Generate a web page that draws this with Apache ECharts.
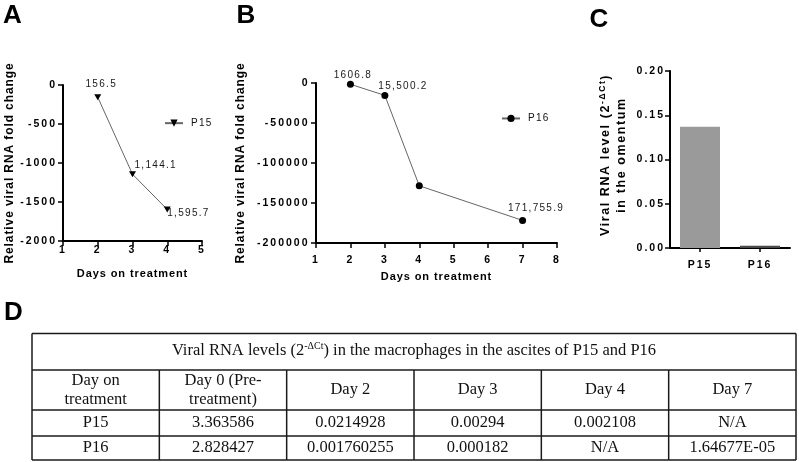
<!DOCTYPE html>
<html><head><meta charset="utf-8">
<script src="https://cdn.jsdelivr.net/npm/echarts@6/dist/echarts.min.js"></script>
<style>html,body{margin:0;padding:0;background:#fff}#c{width:799px;height:462px}</style>
</head><body><div id="c"></div>
<script>
// ---------- Panel A (P15) ----------
const daysA = [2, 3, 4];
const valuesA = [-156.5, -1144.1, -1595.7];
const labelsA = ['156.5', '1,144.1', '1,595.7'];
const xTicksA = [1, 2, 3, 4, 5];
const yTicksA = [-2000, -1500, -1000, -500, 0];
// ---------- Panel B (P16) ----------
const daysB = [2, 3, 4, 7];
const valuesB = [-1606.8, -15500.2, -128500, -171755.9];
const labelsB = ['1606.8', '15,500.2', '', '171,755.9'];
const xTicksB = [1, 2, 3, 4, 5, 6, 7, 8];
const yTicksB = [-200000, -150000, -100000, -50000, 0];
// ---------- Panel C ----------
const patientsC = ['P15', 'P16'];
const valuesC = [0.137, 0.0025];
const yTicksC = [0, 0.05, 0.10, 0.15, 0.20];
// ---------- Panel D (table) ----------
const tableTitleMain = 'Viral RNA levels (2';
const tableTitleSup = '-ΔCt';
const tableTitleEnd = ') in the macrophages in the ascites of P15 and P16';
const tableHeader = ['Day on\ntreatment', 'Day 0 (Pre-\ntreatment)', 'Day 2', 'Day 3', 'Day 4', 'Day 7'];
const tableRowP15 = ['P15', '3.363586', '0.0214928', '0.00294', '0.002108', 'N/A'];
const tableRowP16 = ['P16', '2.828427', '0.001760255', '0.000182', 'N/A', '1.64677E-05'];

// ---------- letter spacing for the chart-panel sans texts (rendering only) ----------
(function () {
  const P = CanvasRenderingContext2D.prototype;
  const groups = [['Arial', '2px'], ['Helvetica', '1.3px'], ['Verdana', '0.9px'], ['Tahoma', '1.6px']];
  function apply(ctx) {
    if (!('letterSpacing' in ctx)) return;
    const f = ctx.font || '';
    let s = '0px';
    for (const g of groups) { if (f.indexOf(g[0]) >= 0) { s = g[1]; break; } }
    if (ctx.letterSpacing !== s) ctx.letterSpacing = s;
  }
  const ft = P.fillText, st = P.strokeText, mt = P.measureText;
  P.fillText = function () { apply(this); return ft.apply(this, arguments); };
  P.strokeText = function () { apply(this); return st.apply(this, arguments); };
  P.measureText = function () { apply(this); return mt.apply(this, arguments); };
})();

// ---------- styling / layout (not data) ----------
const TICKF = "'Liberation Sans', Arial";
const LABF = "'Liberation Sans', Helvetica";
const TITF = "'Liberation Sans', Verdana";
const CTITF = "'Liberation Sans', Tahoma";
const SERIF = 'Liberation Serif';
const labelPlaceA = [
  {dx: 3.5, dy: -12.5, align: 'center'},
  {dx: 2, dy: -9, align: 'left'},
  {dx: 0, dy: 4, align: 'left'}
];
const labelPlaceB = [
  {dx: 2.5, dy: -9.5, align: 'center'},
  {dx: -6.5, dy: -9.5, align: 'left'},
  null,
  {dx: 13.5, dy: -12.5, align: 'center'}
];
const barColors = ['#9a9a9a', '#4a4a4a'];

function lineData(days, vals, labels, place) {
  return days.map((d, i) => {
    const p = place[i];
    const item = {value: [d, vals[i]]};
    if (p && labels[i]) {
      item.label = {
        show: true, formatter: labels[i], position: ['50%', '50%'],
        offset: [p.dx, p.dy], align: p.align, verticalAlign: 'middle',
        fontSize: 10, fontFamily: LABF, color: '#1a1a1a'
      };
    } else {
      item.label = {show: false};
    }
    return item;
  });
}

function axisCommon() {
  return {
    axisLine: {show: true, onZero: false, lineStyle: {color: '#000', width: 2}},
    axisTick: {show: true, length: 5, lineStyle: {color: '#000', width: 1.5}},
    splitLine: {show: false},
    axisLabel: {fontSize: 10.5, fontWeight: 'bold', fontFamily: TICKF, color: '#000'}
  };
}
function valueAxis(gridIndex, ticks, fmt, extra) {
  const base = axisCommon();
  base.axisLabel.formatter = fmt;
  return Object.assign({
    type: 'value', gridIndex,
    min: ticks[0], max: ticks[ticks.length - 1], interval: ticks[1] - ticks[0]
  }, base, extra || {});
}
function merge(a, b) { return Object.assign({}, a, b); }

const nameStyle = {fontSize: 11, fontWeight: 'bold', fontFamily: TITF, color: '#000'};
const yNameStyle = {fontSize: 12, fontWeight: 'bold', fontFamily: TITF, color: '#000'};

const xA = valueAxis(0, xTicksA, v => String(v), {
  name: 'Days on treatment', nameLocation: 'middle', nameGap: 27, nameTextStyle: nameStyle
});
xA.axisLabel.margin = 3;
const yA = valueAxis(0, yTicksA, v => String(v), {
  name: 'Relative viral RNA fold change', nameLocation: 'middle', nameGap: 45, nameTextStyle: yNameStyle
});
yA.axisLabel.margin = 6;
const xB = valueAxis(1, xTicksB, v => String(v), {
  name: 'Days on treatment', nameLocation: 'middle', nameGap: 28, nameTextStyle: nameStyle
});
xB.axisLabel.margin = 10.5;
const yB = valueAxis(1, yTicksB, v => String(v), {
  name: 'Relative viral RNA fold change', nameLocation: 'middle', nameGap: 69, nameTextStyle: yNameStyle
});
yB.axisLabel.margin = 6.5;
const yC = valueAxis(2, yTicksC, v => v.toFixed(2));
yC.axisLabel.margin = 5;
const xCbase = axisCommon();
xCbase.axisTick.alignWithLabel = true;
xCbase.axisTick.length = 4;
xCbase.axisLabel.margin = 10.5;
const xC = Object.assign({type: 'category', gridIndex: 2, data: patientsC}, xCbase);

// ---------- table graphic ----------
const tbl = {left: 32, right: 796, rows: [333.5, 370, 410, 436, 460]};
const nCols = tableHeader.length;
const colW = (tbl.right - tbl.left) / nCols;
const lineSty = {stroke: '#1a1a1a', lineWidth: 1.5};
const tableEls = [];
tbl.rows.forEach(y => tableEls.push({type: 'line', shape: {x1: tbl.left, y1: y, x2: tbl.right, y2: y}, style: lineSty}));
tableEls.push({type: 'line', shape: {x1: tbl.left, y1: tbl.rows[0], x2: tbl.left, y2: tbl.rows[4]}, style: lineSty});
tableEls.push({type: 'line', shape: {x1: tbl.right, y1: tbl.rows[0], x2: tbl.right, y2: tbl.rows[4]}, style: lineSty});
for (let i = 1; i < nCols; i++) {
  const x = tbl.left + i * colW;
  tableEls.push({type: 'line', shape: {x1: x, y1: tbl.rows[1], x2: x, y2: tbl.rows[4]}, style: lineSty});
}
const cellFont = {fontSize: 16.5, fontFamily: SERIF, fill: '#111', align: 'center', verticalAlign: 'middle', lineHeight: 19};
tableEls.push({
  type: 'text', x: (tbl.left + tbl.right) / 2, y: (tbl.rows[0] + tbl.rows[1]) / 2 - 1,
  style: merge(cellFont, {
    text: tableTitleMain + '{s|' + tableTitleSup + '}' + tableTitleEnd,
    rich: {s: {fontSize: 10, fontFamily: SERIF, fill: '#111', verticalAlign: 'top', lineHeight: 19}}
  })
});
[tableHeader, tableRowP15, tableRowP16].forEach((row, r) => {
  const cy = (tbl.rows[r + 1] + tbl.rows[r + 2]) / 2;
  row.forEach((txt, c) => {
    tableEls.push({type: 'text', x: tbl.left + (c + 0.5) * colW, y: cy, style: merge(cellFont, {text: txt})});
  });
});

const letterStyle = {fontSize: 26, fontWeight: 'bold', fontFamily: "'Liberation Sans', sans-serif", fill: '#000', align: 'center', verticalAlign: 'middle'};
const graphics = [
  {type: 'text', x: 12.5, y: 15.5, style: merge(letterStyle, {text: 'A'})},
  {type: 'text', x: 246, y: 15.5, style: merge(letterStyle, {text: 'B'})},
  {type: 'text', x: 599, y: 19.5, style: merge(letterStyle, {text: 'C'})},
  {type: 'text', x: 13.5, y: 313, style: merge(letterStyle, {text: 'D'})},
  {
    type: 'text', x: 613.5, y: 155, rotation: Math.PI / 2,
    style: {
      text: 'Viral RNA level (2{s|-ΔCt})\nin the omentum',
      fontSize: 12.5, fontWeight: 'bold', fontFamily: CTITF, fill: '#000',
      align: 'center', verticalAlign: 'middle', lineHeight: 16.5,
      rich: {s: {fontSize: 8.5, fontWeight: 'bold', fontFamily: CTITF, fill: '#000', verticalAlign: 'top', lineHeight: 16.5}}
    }
  }
].concat(tableEls);

const legendText = {fontSize: 10, fontFamily: LABF, color: '#111', padding: [0, 0, 0, 3]};

const chart = echarts.init(document.getElementById('c'), null, {renderer: 'canvas'});
chart.setOption({
  animation: false,
  backgroundColor: '#fff',
  grid: [
    {left: 63, top: 85, width: 139, height: 156},
    {left: 316, top: 83, width: 241, height: 160},
    {left: 670, top: 71, width: 120, height: 177}
  ],
  xAxis: [xA, xB, xC],
  yAxis: [yA, yB, yC],
  legend: [
    {data: ['P15'], left: 164, top: 117.5, padding: 0, itemWidth: 18, itemHeight: 9, textStyle: legendText},
    {data: ['P16'], left: 501, top: 112.8, padding: 0, itemWidth: 18, itemHeight: 9, textStyle: legendText}
  ],
  series: [
    {
      type: 'line', name: 'P15', xAxisIndex: 0, yAxisIndex: 0,
      data: lineData(daysA, valuesA, labelsA, labelPlaceA),
      symbol: 'triangle', symbolRotate: 180, symbolSize: [7, 6],
      lineStyle: {color: '#666', width: 1}, itemStyle: {color: '#000'}
    },
    {
      type: 'line', name: 'P16', xAxisIndex: 1, yAxisIndex: 1,
      data: lineData(daysB, valuesB, labelsB, labelPlaceB),
      symbol: 'circle', symbolSize: 7,
      lineStyle: {color: '#666', width: 1}, itemStyle: {color: '#000'}
    },
    {
      type: 'bar', name: 'omentum', xAxisIndex: 2, yAxisIndex: 2, barWidth: 40,
      data: valuesC.map((v, i) => ({value: v, itemStyle: {color: barColors[i]}}))
    }
  ],
  graphic: graphics
});
</script></body></html>
